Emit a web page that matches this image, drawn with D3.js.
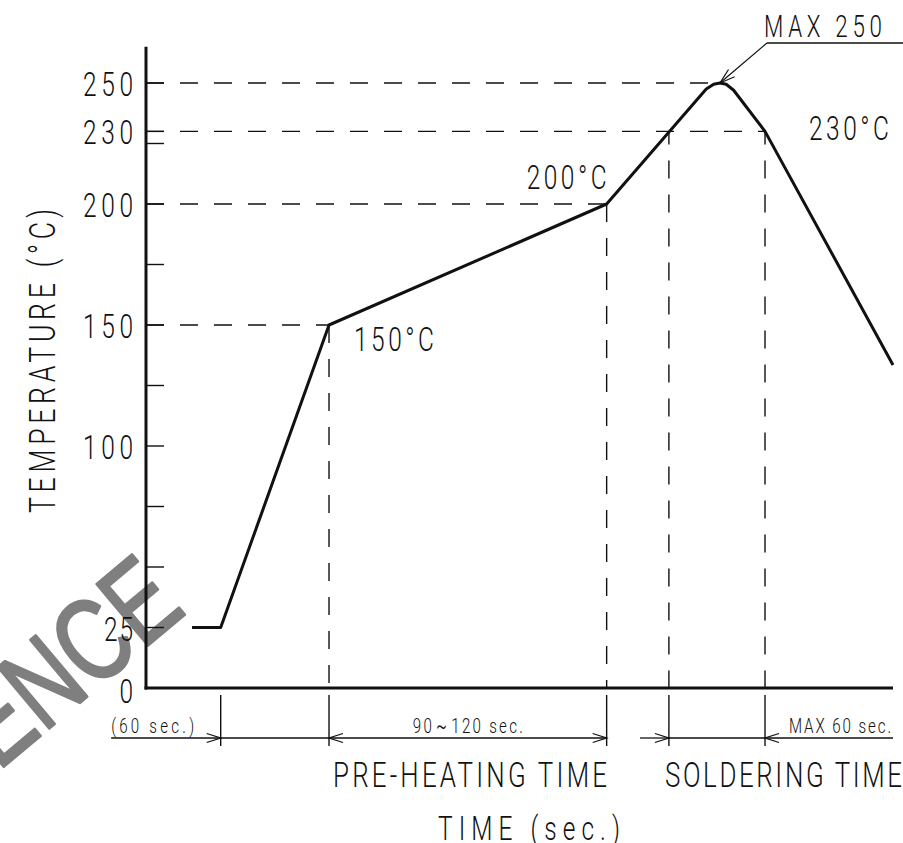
<!DOCTYPE html>
<html>
<head>
<meta charset="utf-8">
<script src="https://cdn.jsdelivr.net/npm/d3@7"></script>
<style>
  body { margin: 0; background: #fff; }
  svg { display: block; }
</style>
</head>
<body>
<svg id="chart" width="903" height="843"></svg>
<script>
// Reflow soldering profile: time (s, schematic) vs temperature (°C)
const profileTime = [18.5, 30, 73.5, 185, 225, 228, 230.5, 233, 236, 248.6, 300];
const profileTemp = [25, 25, 150, 200, 247.5, 249.5, 250, 249.5, 247, 230, 133.5];

// temperature axis
const tempTicks = [0, 25, 50, 75, 100, 125, 150, 175, 200, 225, 230, 250];
const tempLabels = ["0", "25", "100", "150", "200", "230", "250"];

// key points of the profile (time, temperature) with guide lines
const refTimes = [73.5, 185, 210, 248.6];
const refTemps = [150, 200, 230, 230];
const levelTemps = [150, 200, 230, 250];
const levelEnds = [73.5, 185, 248.6, 230.5];

// callouts on the curve
const pointLabels = ["150°C", "200°C", "230°C"];
const peakLabel = "MAX 250";

// time dimensions under the axis
const extTimes = [30, 73.5, 185, 210, 248.6];
const dimLabels = ["(60 sec.)", "90～120 sec.", "MAX 60 sec."];
const phaseLabels = ["PRE-HEATING TIME", "SOLDERING TIME"];
const xTitle = "TIME (sec.)";
const yTitle = "TEMPERATURE (°C)";

const svg = d3.select("#chart");
const W = 903, H = 843;

const x = d3.scaleLinear().domain([0, 300]).range([146, 893]);
const y = d3.scaleLinear().domain([0, 250]).range([688, 83]);

const ink = "#111";
const FONT = 'Roboto, "DejaVu Sans", sans-serif';

function label(parent, str, px, py, o) {
  const sx = o.sx || 0.72;
  const t = parent.append("text")
    .attr("transform", `translate(${px},${py})${o.rotate ? ` rotate(${o.rotate})` : ""} scale(${sx},1)`)
    .attr("text-anchor", o.anchor || "start")
    .attr("font-family", FONT)
    .attr("font-weight", 300)
    .attr("font-size", o.size)
    .attr("fill", ink)
    .text(str);
  if (o.width && str.length > 1) {
    t.attr("textLength", o.width / sx).attr("lengthAdjust", "spacing");
  }
  return t;
}

svg.append("rect").attr("width", W).attr("height", H).attr("fill", "#fff");

// watermark
svg.append("text")
  .attr("transform", "translate(188,612) rotate(-40) scale(0.77,1)")
  .attr("text-anchor", "end")
  .attr("font-family", '"Liberation Sans", Arial, sans-serif')
  .attr("font-size", 116)
  .attr("fill", "#7f7f7f")
  .attr("stroke", "#7f7f7f")
  .attr("stroke-width", 2.8)
  .attr("stroke-linejoin", "round")
  .text("REFERENCE");

const g = svg.append("g");

// horizontal guide lines to each level
levelTemps.forEach((tv, i) => {
  g.append("line")
    .attr("x1", x(0)).attr("x2", x(levelEnds[i]))
    .attr("y1", y(tv)).attr("y2", y(tv))
    .attr("stroke", ink).attr("stroke-width", 1.4)
    .attr("stroke-dasharray", "18,16");
});

// vertical guide lines down to the time axis
refTimes.forEach((tv, i) => {
  const soldering = i >= 2;
  g.append("line")
    .attr("x1", x(tv)).attr("x2", x(tv))
    .attr("y1", y(refTemps[i])).attr("y2", y(0))
    .attr("stroke", ink).attr("stroke-width", 1.4)
    .attr("stroke-dasharray", "18,16")
    .attr("stroke-dashoffset", soldering ? 39 : 0);
});

// temperature ticks
tempTicks.forEach(tv => {
  g.append("line")
    .attr("x1", x(0)).attr("x2", x(0) + 18)
    .attr("y1", y(tv)).attr("y2", y(tv))
    .attr("stroke", ink).attr("stroke-width", 1.4);
});

// axes
g.append("line")
  .attr("x1", x(0)).attr("x2", x(0))
  .attr("y1", y(265)).attr("y2", y(0) + 1.5)
  .attr("stroke", ink).attr("stroke-width", 3);
g.append("line")
  .attr("x1", x(0) - 1.5).attr("x2", x(300))
  .attr("y1", y(0)).attr("y2", y(0))
  .attr("stroke", ink).attr("stroke-width", 3);

// tick labels
tempLabels.forEach(s => {
  const v = +s;
  const w = s.length === 3 ? 50 : (s.length === 2 ? 29 : 12);
  const dy = v === 0 ? 15 : 13;
  label(g, s, 133, y(v) + dy, { size: 34, anchor: "end", width: w });
});

// profile curve
const line = d3.line().x(d => x(d[0])).y(d => y(d[1]));
g.append("path")
  .datum(profileTime.map((t, i) => [t, profileTemp[i]]))
  .attr("d", line)
  .attr("fill", "none")
  .attr("stroke", ink)
  .attr("stroke-width", 3)
  .attr("stroke-linejoin", "round");

// point callouts
label(g, pointLabels[0], x(73.5) + 25, y(150) + 26, { size: 34, width: 80 });
label(g, pointLabels[1], x(185) - 80, y(200) - 15, { size: 34, width: 80 });
label(g, pointLabels[2], x(248.6) + 44, y(230) + 9, { size: 34, width: 80 });

// peak callout with leader
const peakX = x(230.5), peakY = y(250);
const elbowX = peakX + 47, elbowY = peakY - 40;
g.append("line")
  .attr("x1", elbowX).attr("x2", W)
  .attr("y1", elbowY).attr("y2", elbowY)
  .attr("stroke", ink).attr("stroke-width", 1.3);
g.append("line")
  .attr("x1", elbowX).attr("x2", peakX)
  .attr("y1", elbowY).attr("y2", peakY)
  .attr("stroke", ink).attr("stroke-width", 1.2);
(function () {
  const ang = Math.atan2(elbowY - peakY, elbowX - peakX);
  const L = 16, a = 0.3;
  const p1 = [peakX + L * Math.cos(ang + a), peakY + L * Math.sin(ang + a)];
  const p2 = [peakX + L * Math.cos(ang - a), peakY + L * Math.sin(ang - a)];
  g.append("path")
    .attr("d", `M${p1}L${peakX},${peakY}L${p2}`)
    .attr("fill", "none").attr("stroke", ink).attr("stroke-width", 1.2);
})();
label(g, peakLabel, elbowX - 3, elbowY - 6, { size: 31, width: 118 });

// dimension lines under the axis
const dimY = 738;
extTimes.forEach(tv => {
  g.append("line")
    .attr("x1", x(tv)).attr("x2", x(tv))
    .attr("y1", 695).attr("y2", 746)
    .attr("stroke", ink).attr("stroke-width", 1.4);
});
function hline(x1, x2) {
  g.append("line").attr("x1", x1).attr("x2", x2)
    .attr("y1", dimY).attr("y2", dimY)
    .attr("stroke", ink).attr("stroke-width", 1.3);
}
function arrow(tipX, dir) {
  // dir = +1 points right, -1 points left
  const L = 14, hw = 4.5;
  g.append("path")
    .attr("d", `M${tipX - dir * L},${dimY - hw}L${tipX},${dimY}L${tipX - dir * L},${dimY + hw}`)
    .attr("fill", "none").attr("stroke", ink).attr("stroke-width", 1.3);
}
hline(x(-14), x(30));   arrow(x(30), 1);
hline(x(30), x(73.5));  arrow(x(73.5), -1);
hline(x(73.5), x(185)); arrow(x(185), 1);
hline(x(198.4), x(210)); arrow(x(210), 1);
hline(x(210), x(248.6));
hline(x(248.6), x(300)); arrow(x(248.6), -1);

label(g, dimLabels[0], x(-14), dimY - 5, { size: 21, width: 83 });
label(g, dimLabels[1], (x(73.5) + x(185)) / 2, dimY - 5, { size: 21, anchor: "middle", width: 110 });
label(g, dimLabels[2], x(300) - 2, dimY - 5, { size: 21, anchor: "end", width: 102 });

label(g, phaseLabels[0], 333, 787, { size: 36, width: 274 });
label(g, phaseLabels[1], 665, 787, { size: 36, width: 237 });

label(g, xTitle, 438, 840, { size: 34, width: 182 });
label(g, yTitle, 55, 361, { size: 37, anchor: "middle", rotate: -90, width: 304 });
</script>
</body>
</html>
